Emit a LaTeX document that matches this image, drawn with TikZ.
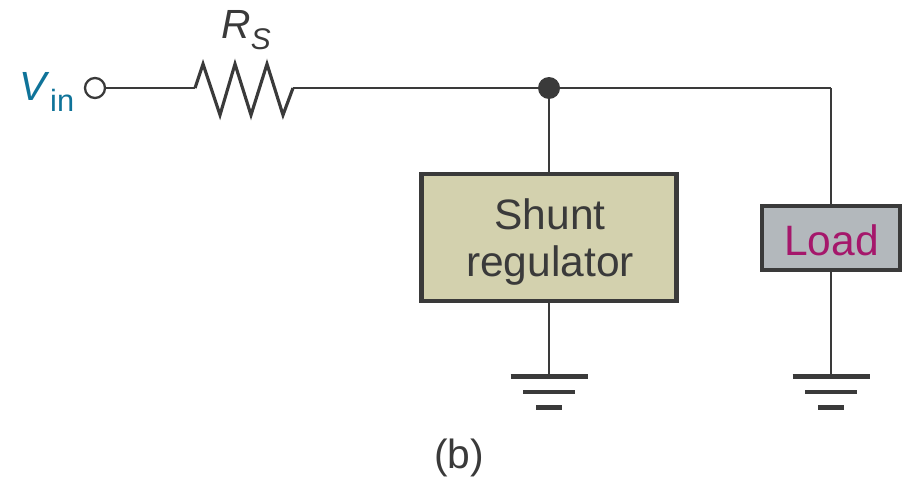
\documentclass[tikz,border=0pt]{standalone}
\usepackage{fontspec}
\setmainfont{Liberation Sans}
\usetikzlibrary{calc}

\definecolor{wirecol}{HTML}{3A3A3A}
\definecolor{shuntcol}{HTML}{D3D1AE}
\definecolor{loadcol}{HTML}{B3B8BC}
\definecolor{loadtext}{HTML}{A5176B}
\definecolor{vincol}{HTML}{0F7399}

\tikzset{
  wire/.style={draw=wirecol,line width=1.45pt,line join=miter},
  bar/.style={draw=wirecol,line width=2.3pt},
  box/.style={draw=wirecol,line width=2.4pt,inner sep=0pt},
  boxtext/.style={inner sep=0pt,text=wirecol,align=center,
    font=\fontsize{24.2}{26.8}\selectfont},
}

\begin{document}
\begin{tikzpicture}

\begin{scope}[x=0.02cm,y=-0.02cm]

  \useasboundingbox (0,0) rectangle (905,480);

  \node[vincol,font=\fontsize{23.2}{27}\selectfont] (vinlabel) at (47,92) {\textit{V}\raisebox{-6pt}{\fontsize{17.5}{20}\selectfont in}};
  \node[wirecol,font=\fontsize{23.2}{27}\selectfont] (rslabel) at (246,30) {\textit{R}\raisebox{-6pt}{\fontsize{17}{20}\selectfont\textit{S}}};
  \node[wirecol,font=\fontsize{23.2}{27}\selectfont] (title) at (459,458) {(b)};

  \node[circle,draw=wirecol,line width=1.3pt,fill=white,inner sep=0pt,minimum size=0.40cm] (vin) at (95,88) {};
  \node[circle,fill=wirecol,inner sep=0pt,minimum size=0.44cm] (dot) at (549,88) {};

  \node[box,fill=shuntcol,minimum width=5.1cm,minimum height=2.54cm] (shunt) at (549,237.5) {};
  \node[box,fill=loadcol,minimum width=2.76cm,minimum height=1.28cm] (load) at (831,238) {};
  \node[boxtext] (shunttext) at (550,242) {Shunt\\regulator};
  \node[boxtext,text=loadtext] (loadtext) at (831.5,240) {Load};

  \coordinate (rsa) at (195,88);
  \coordinate (rsb) at (293,88);
  \coordinate (corner) at (831,88);
  \coordinate (gnda) at (549,376.5);
  \coordinate (gndb) at (831,376.5);

  \draw[wire] (vin) -- (rsa);
  \draw[wire,line width=1.8pt] (rsa) -- (203,64) -- (220,115) -- (235,64) -- (251,115) -- (267,64) -- (283,115) -- (rsb);
  \draw[wire] (rsb) -- (dot);
  \draw[wire] (dot) -- (corner);
  \draw[wire] (corner) -- (load);
  \draw[wire] (dot) -- (shunt);
  \draw[wire] (shunt) -- (gnda);
  \draw[wire] (load) -- (gndb);

  \foreach \g in {gnda,gndb} {
    \draw[bar] ($(\g)+(-38.5,0)$) -- ($(\g)+(38.5,0)$);
    \draw[bar] ($(\g)+(-26,15.5)$) -- ($(\g)+(26,15.5)$);
    \draw[bar] ($(\g)+(-13,31)$) -- ($(\g)+(13,31)$);
  }

\end{scope}

\end{tikzpicture}
\end{document}
